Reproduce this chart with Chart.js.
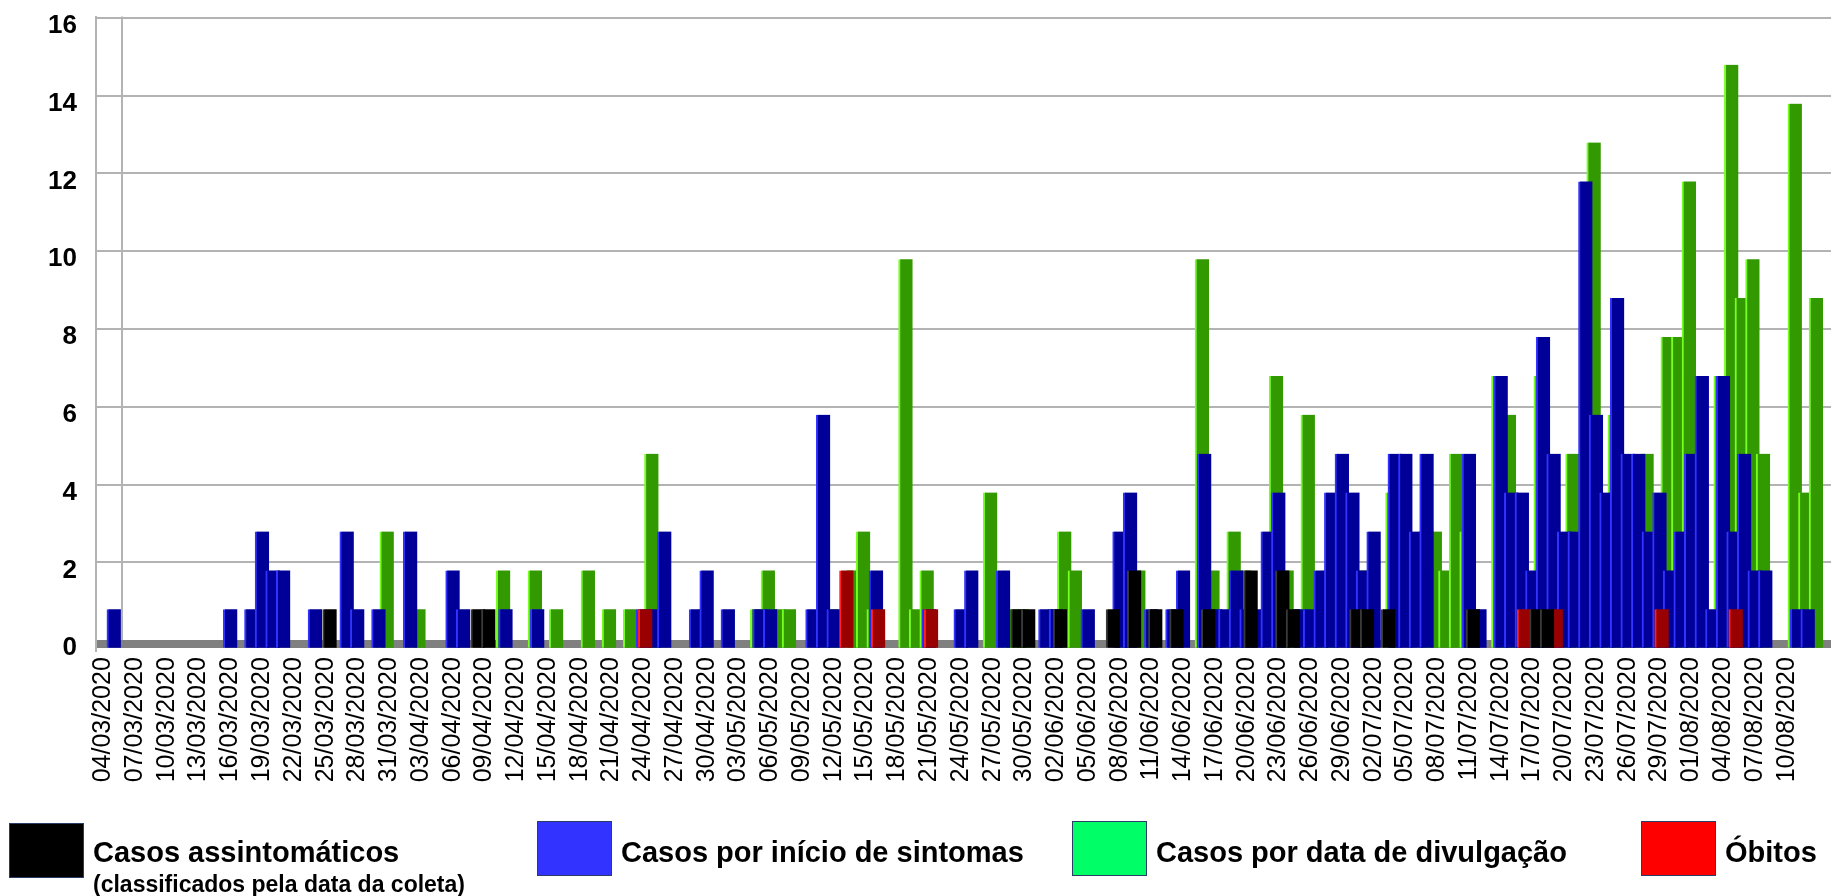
<!DOCTYPE html>
<html><head><meta charset="utf-8">
<script src="https://cdn.jsdelivr.net/npm/chart.js@4.4.1/dist/chart.umd.min.js"></script>
<style>
html,body{margin:0;padding:0;background:#fff;}
#wrap{position:relative;width:1831px;height:896px;overflow:hidden;font-family:'Liberation Sans',Arial,sans-serif;}
#c{position:absolute;left:0;top:0;}
.sw{position:absolute;width:75px;height:55px;box-sizing:border-box;border:1px solid #2a3d66;}
.lt{position:absolute;font-weight:bold;font-size:29px;line-height:29px;white-space:nowrap;color:#000;}
.ls{position:absolute;font-weight:bold;font-size:23px;line-height:23px;white-space:nowrap;color:#000;}
</style></head>
<body><div id="wrap"><canvas id="c" width="1831" height="896"></canvas>
<div class="sw" style="left:9px;top:823px;background:#000000"></div>
<div class="lt" style="left:93px;top:838px">Casos assintomáticos</div>
<div class="ls" style="left:93px;top:873px">(classificados pela data da coleta)</div>
<div class="sw" style="left:537px;top:821px;background:#3333ff"></div>
<div class="lt" style="left:621px;top:838px">Casos por início de sintomas</div>
<div class="sw" style="left:1072px;top:821px;background:#00ff66"></div>
<div class="lt" style="left:1156px;top:838px">Casos por data de divulgação</div>
<div class="sw" style="left:1641px;top:821px;background:#ff0000"></div>
<div class="lt" style="left:1725px;top:838px">Óbitos</div>
</div>
<script>
// ---- categories (one per day, 04/03/2020 .. 13/08/2020) ----
const firstDay = [2020, 2, 4]; // year, month index, day
const dayCount = 163;
const categories = [];
for (let i = 0; i < dayCount; i++) {
  const d = new Date(Date.UTC(firstDay[0], firstDay[1], firstDay[2] + i));
  const dd = String(d.getUTCDate()).padStart(2, '0');
  const mm = String(d.getUTCMonth() + 1).padStart(2, '0');
  categories.push(dd + '/' + mm + '/' + d.getUTCFullYear());
}
// tick labels: every 3rd day up to 10/08/2020
const tickIndices = [];
for (let i = 0; i <= 159; i += 3) tickIndices.push(i);
const tickLabels = tickIndices.map(i => categories[i]);
const yTicks = [0, 2, 4, 6, 8, 10, 12, 14, 16];

// ---- series (daily values) ----
const assintomaticos = [
  0,0,0,0,0,0,0,0,0,0, 0,0,0,0,0,0,0,0,0,0, 0,1,0,0,0,0,0,0,
  0,0,0,0,0,0,0,1,1,0, 0,0,0,0,0,0,0,0,0,0, 0,0,0,0,0,0,0,0,0,0,
  0,0,0,0,0,0,0,0,0,0, 0,0,0,0,0,0,0,0,0,0, 0,0,0,0,0,0,0,0,1,1, 0,
  0,1,0,0,0,0,1,0,2,0, 1,0,1,0,0,1,0,0,0,2, 0,0,2,1,0,0,0,0,0,1,
  1,0,1,0,0,0,0,0,0,0, 1,0,0,0,0,0,1,1,0,0, 0,0,0,0,0,0,0,0,0,0, 0,
  0,0,0,0,0,0,0,0,0,0, 0,0,0
];
const inicioSintomas = [
  0,1,0,0,0,0,0,0,0,0, 0,0,1,0,1,3,2,2,0,0, 1,0,0,3,1,0,1,0,
  0,3,0,0,0,2,1,0,0,0, 1,0,0,1,0,0,0,0,0,0, 0,0,0,1,1,3,0,0,1,2,
  0,1,0,0,1,1,0,0,0,1, 6,1,0,0,0,2,0,0,0,0, 1,0,0,1,2,0,0,2,0,0, 0,
  1,1,0,0,1,0,0,3,4,0, 1,0,1,2,0,5,1,1,2,1, 1,3,4,0,1,1,2,4,5,4,
  2,3,0,5,5,3,5,0,0,0, 5,1,0,7,4,4,2,8,5,3, 3,12,6,4,9,5,5,3,4,2, 3,
  5,7,1,7,3,5,2,2,0,0, 1,1,0
];
const dataDivulgacao = [
  0,0,0,0,0,0,0,0,0,0, 0,0,0,0,0,0,0,0,0,0, 0,0,0,0,0,0,0,3,
  0,0,1,0,0,0,0,0,0,0, 2,0,0,2,0,1,0,0,2,0, 1,0,1,0,5,0,0,0,0,1,
  0,0,0,0,1,2,1,1,0,0, 0,1,0,2,3,1,0,0,10,1, 2,0,0,0,0,0,4,0,1,1, 0,
  0,1,3,2,0,0,0,0,1,2, 0,0,0,0,0,10,2,0,3,2, 0,0,7,2,0,6,1,2,0,0,
  2,0,0,4,0,0,3,3,2,5, 3,0,0,7,6,3,1,7,0,0, 5,3,13,1,6,0,0,5,3,8, 8,
  12,0,0,7,15,9,10,5,0,0, 14,4,9
];
const obitos = [
  0,0,0,0,0,0,0,0,0,0, 0,0,0,0,0,0,0,0,0,0, 0,0,0,0,0,0,0,0,
  0,0,0,0,0,0,0,0,0,0, 0,0,0,0,0,0,0,0,0,0, 0,0,0,1,0,0,0,0,0,0,
  0,0,0,0,0,0,0,0,0,0, 0,0,2,0,0,1,0,0,0,0, 1,0,0,0,0,0,0,0,0,0, 0,
  0,0,0,0,0,0,0,0,0,0, 0,0,0,0,0,0,0,0,0,0, 0,0,0,0,0,0,0,0,0,0,
  0,0,0,0,0,0,0,0,0,0, 0,0,0,0,0,1,0,0,1,0, 0,0,0,0,0,0,0,0,1,0, 0,
  0,0,0,0,1,0,0,0,0,0, 0,0,0
];

// ---- drawing ----
Chart.defaults.font.family = "'Liberation Sans', Arial, sans-serif";
const wallX = 1.77;       // back wall line position (in day units)
const floorY = -0.1;      // floor band position on the back-wall axis

function points(values, shift) {
  const out = [];
  values.forEach((v, i) => { if (v > 0) out.push({x: i + shift, y: v}); });
  return out;
}
function barSet(label, values, shift, fill, edge, order) {
  return {
    label, data: points(values, shift), order,
    backgroundColor: fill, borderColor: edge,
    borderWidth: {left: 2, top: 0, right: 0, bottom: 0},
    borderSkipped: false, barThickness: 14, grouped: false,
    xAxisID: 'x', yAxisID: 'y'
  };
}

new Chart(document.getElementById('c'), {
  type: 'bar',
  data: {
    datasets: [
      barSet('Casos assintomáticos', assintomaticos, 0.38, '#000000', '#3a3a3a', 1),
      barSet('Óbitos', obitos, 0.2, '#990000', '#ff2020', 2),
      barSet('Casos por início de sintomas', inicioSintomas, 0, '#000099', '#3333ff', 3),
      barSet('Casos por data de divulgação', dataDivulgacao, -0.22, '#339900', '#77ff22', 4)
    ]
  },
  options: {
    responsive: false, animation: false, devicePixelRatio: 1,
    layout: {padding: {top: 16.5, left: 0, right: 0, bottom: 0}},
    plugins: {legend: {display: false}, tooltip: {enabled: false}},
    scales: {
      x: {
        type: 'linear', min: -0.69, max: 163.19, offset: false, bounds: 'data',
        afterBuildTicks: ax => {
          const vals = [0, wallX].concat(tickIndices.slice(1));
          ax.ticks = vals.map(v => ({value: v}));
        },
        afterFit: ax => { ax.height = 247.8; },
        ticks: {
          autoSkip: false, minRotation: 90, maxRotation: 90, padding: 9,
          color: '#000', font: {size: 25},
          callback: v => { const k = tickIndices.indexOf(v); return k >= 0 ? tickLabels[k] : ''; }
        },
        grid: {
          offset: false, drawTicks: false, lineWidth: 2,
          color: c => (c.tick && c.tick.value === wallX) ? '#b3b3b3' : 'rgba(0,0,0,0)'
        },
        border: {display: false}
      },
      y: {
        type: 'linear', position: 'left', weight: 1, min: 0, max: 16.24,
        afterBuildTicks: ax => { ax.ticks = yTicks.map(v => ({value: v})); },
        afterFit: ax => { ax.width = 96; },
        ticks: {color: '#000', padding: 0, font: {size: 26, weight: 'bold', lineHeight: 1}},
        grid: {drawOnChartArea: false, drawTicks: true, tickLength: 19, color: 'rgba(0,0,0,0)'},
        border: {display: false}
      },
      y2: {
        type: 'linear', position: 'left', weight: 0, min: -0.206, max: 16.034,
        afterBuildTicks: ax => { ax.ticks = [floorY].concat(yTicks.slice(1)).map(v => ({value: v})); },
        afterFit: ax => { ax.width = 0; },
        ticks: {display: false},
        grid: {
          drawTicks: false,
          color: c => (c.tick && c.tick.value === floorY) ? '#808080' : '#b3b3b3',
          lineWidth: c => (c.tick && c.tick.value === floorY) ? 8 : 2
        },
        border: {display: true, color: '#b3b3b3', width: 2}
      }
    }
  }
});
</script>
</body></html>
